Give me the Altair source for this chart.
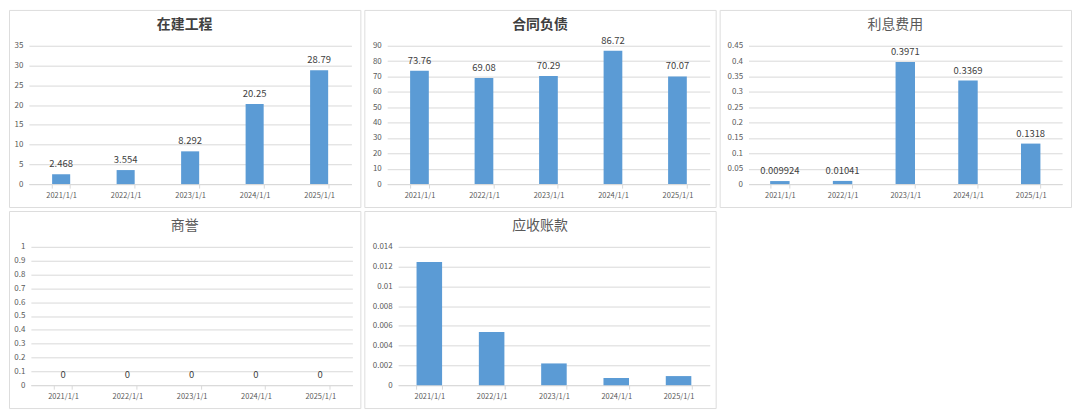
import altair as alt
import pandas as pd

# ---------------- data ----------------
dates = ["2021/1/1", "2022/1/1", "2023/1/1", "2024/1/1", "2025/1/1"]

zj_title = "在建工程"
zj_values = [2.468, 3.554, 8.292, 20.25, 28.79]
zj_labels = ["2.468", "3.554", "8.292", "20.25", "28.79"]
zj_ticks = [0, 5, 10, 15, 20, 25, 30, 35]

ht_title = "合同负债"
ht_values = [73.76, 69.08, 70.29, 86.72, 70.07]
ht_labels = ["73.76", "69.08", "70.29", "86.72", "70.07"]
ht_ticks = [0, 10, 20, 30, 40, 50, 60, 70, 80, 90]

lx_title = "利息费用"
lx_values = [0.009924, 0.01041, 0.3971, 0.3369, 0.1318]
lx_labels = ["0.009924", "0.01041", "0.3971", "0.3369", "0.1318"]
lx_ticks = [0, 0.05, 0.1, 0.15, 0.2, 0.25, 0.3, 0.35, 0.4, 0.45]

sy_title = "商誉"
sy_values = [0, 0, 0, 0, 0]
sy_labels = ["0", "0", "0", "0", "0"]
sy_ticks = [0, 0.1, 0.2, 0.3, 0.4, 0.5, 0.6, 0.7, 0.8, 0.9, 1]

ys_title = "应收账款"
ys_values = [0.01246, 0.00538, 0.0022, 0.00072, 0.00092]
ys_labels = None
ys_ticks = [0, 0.002, 0.004, 0.006, 0.008, 0.01, 0.012, 0.014]

# ---------------- layout / style ----------------
W, H = 353, 198
TOP, BOTTOM = 36, 175
GRID = "#D9D9D9"
LABEL = "#595959"
BAR = "#5B9BD5"
FONT = "Noto Sans CJK SC"


def panel(title, values, labels, ticks, left, right, pad, bold):
    df = pd.DataFrame({
        "date": dates,
        "value": values,
        "label": labels if labels else [""] * len(dates),
    })
    x = alt.X(
        "date:N", sort=dates, title=None,
        scale=alt.Scale(range=[left, right], paddingInner=pad, paddingOuter=pad / 2),
        axis=alt.Axis(
            labelAngle=0, offset=-(H - BOTTOM), tickBand="extent", tickSize=4,
            tickColor=GRID, domainColor=GRID, labelFontSize=7.5, labelColor=LABEL,
            labelPadding=3, grid=False, labelFont=FONT,
        ),
    )
    y = alt.Y(
        "value:Q", title=None,
        scale=alt.Scale(domain=[0, ticks[-1]], range=[BOTTOM, TOP], nice=False, zero=True),
        axis=alt.Axis(
            values=ticks, format="~r", offset=-left, ticks=False, tickSize=0,
            domain=False, grid=True, gridColor=GRID, labelFontSize=8,
            labelColor=LABEL, labelPadding=6, labelOverlap=False, labelFont=FONT,
        ),
    )
    base = alt.Chart(df)
    layers = [base.mark_bar(color=BAR).encode(x=x, y=y)]
    if labels:
        layers.append(
            base.mark_text(baseline="bottom", dy=-5, fontSize=9.5, color="#404040", font=FONT)
            .encode(x=x, y=y, text="label:N")
        )
    layers.append(
        alt.Chart(pd.DataFrame({"t": [title]}))
        .mark_text(
            fontSize=14, baseline="middle", align="center", font=FONT,
            fontWeight="bold" if bold else "normal",
            color="#404040" if bold else LABEL,
        )
        .encode(text="t:N", x=alt.value(W / 2), y=alt.value(15))
    )
    return alt.layer(*layers).properties(width=W, height=H)


p1 = panel(zj_title, zj_values, zj_labels, zj_ticks, 20, 344, 0.72, True)
p2 = panel(ht_title, ht_values, ht_labels, ht_ticks, 23, 347, 0.71, True)
p3 = panel(lx_title, lx_values, lx_labels, lx_ticks, 29, 344, 0.69, False)
p4 = panel(sy_title, sy_values, sy_labels, sy_ticks, 22, 345, 0.72, False)
p5 = panel(ys_title, ys_values, ys_labels, ys_ticks, 34, 347, 0.59, False)

chart = (
    alt.vconcat(
        alt.hconcat(p1, p2, p3, spacing=2),
        alt.hconcat(p4, p5, spacing=2),
        spacing=2,
    )
    .properties(padding=0, background="white")
    .configure_view(stroke=GRID, strokeWidth=1)
    .configure(font=FONT)
)

chart.save("out.html", embed_options={"renderer": "svg", "actions": False})
